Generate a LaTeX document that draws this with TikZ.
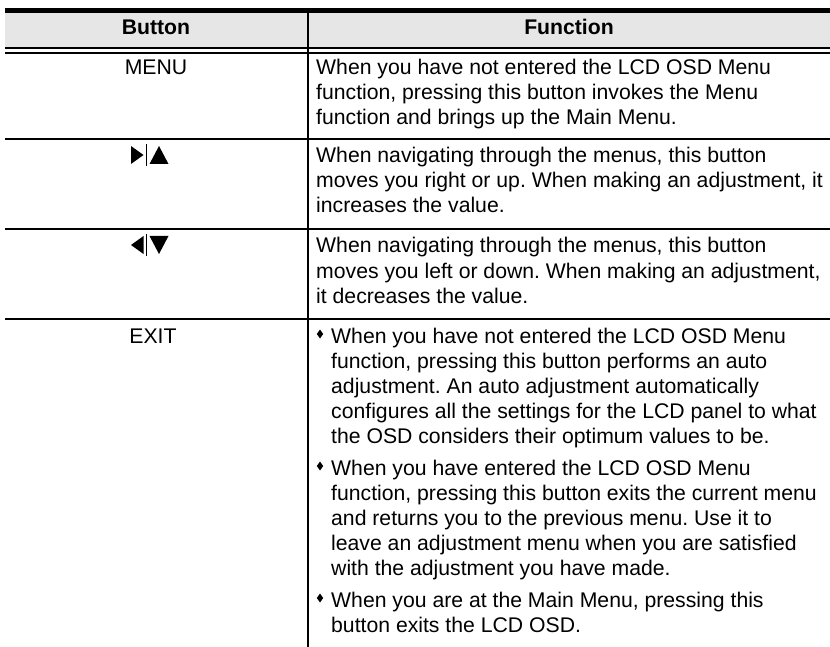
\documentclass[tikz,border=0pt]{standalone}
\usepackage{fontspec}
\setmainfont{Liberation Sans}
\definecolor{headgray}{HTML}{E6E6E6}
\begin{document}
\frenchspacing
\begin{tikzpicture}[x=1pt,y=-1pt,
  txt/.style={anchor=base west,inner sep=0pt,font=\fontsize{21.2}{25}\selectfont},
  ctr/.style={anchor=base,inner sep=0pt,font=\fontsize{21.2}{25}\selectfont},
  hdr/.style={anchor=base,inner sep=0pt,font=\fontsize{21.2}{25}\selectfont\bfseries},
  rule/.style={line width=2pt},
  bul/.style={fill=black}]
\useasboundingbox (0,0) rectangle (830,647);
% header
\fill[headgray] (5,13.3) rectangle (830,46.7);
\draw[line width=5pt] (5,10.8) -- (830,10.8);
\draw[rule] (5,47.7) -- (830,47.7);
\draw[rule] (5,52.7) -- (830,52.7);
\draw[rule] (307.5,13) -- (307.5,647);
\draw[rule] (5,139) -- (830,139);
\draw[rule] (5,229) -- (830,229);
\draw[rule] (5,319) -- (830,319);
\node[hdr] (hb) at (156,35) {Button};
\node[hdr] (hf) at (569,35) {Function};
% MENU row
\node[ctr] (bmenu) at (156,75) {MENU};
\node[txt] (m1) at (316,75) {When you have not entered the LCD OSD Menu};
\node[txt] (m2) at (316,100) {function, pressing this button invokes the Menu};
\node[txt] (m3) at (316,125) {function and brings up the Main Menu.};
% right/up row
\fill (131,146) -- (131,164) -- (143.5,155) -- cycle;
\draw[line width=1pt] (146.5,144.5) -- (146.5,166);
\fill (149.5,164) -- (168.5,164) -- (159,146) -- cycle;
\node[txt] (u1) at (316,163) {When navigating through the menus, this button};
\node[txt] (u2) at (316,188) {moves you right or up. When making an adjustment, it};
\node[txt] (u3) at (316,213) {increases the value.};
% left/down row
\fill (143.5,236) -- (143.5,254) -- (131,245) -- cycle;
\draw[line width=1pt] (146.5,234.5) -- (146.5,256);
\fill (149.5,236) -- (168.5,236) -- (159,254) -- cycle;
\node[txt] (d1) at (316,253) {When navigating through the menus, this button};
\node[txt] (d2) at (316,278) {moves you left or down. When making an adjustment,};
\node[txt] (d3) at (316,303) {it decreases the value.};
% EXIT row
\node[ctr] (bexit) at (153,343) {EXIT};
\fill[bul] (320,329.5) -- (323.2,334) -- (320,338.5) -- (316.8,334) -- cycle;
\node[txt] (e1) at (331,343) {When you have not entered the LCD OSD Menu};
\node[txt] (e2) at (331,368) {function, pressing this button performs an auto};
\node[txt] (e3) at (331,393) {adjustment. An auto adjustment automatically};
\node[txt] (e4) at (331,418) {configures all the settings for the LCD panel to what};
\node[txt] (e5) at (331,443) {the OSD considers their optimum values to be.};
\fill[bul] (320,461.5) -- (323.2,466) -- (320,470.5) -- (316.8,466) -- cycle;
\node[txt] (f1) at (331,475) {When you have entered the LCD OSD Menu};
\node[txt] (f2) at (331,500) {function, pressing this button exits the current menu};
\node[txt] (f3) at (331,525) {and returns you to the previous menu. Use it to};
\node[txt] (f4) at (331,550) {leave an adjustment menu when you are satisfied};
\node[txt] (f5) at (331,575) {with the adjustment you have made.};
\fill[bul] (320,593.5) -- (323.2,598) -- (320,602.5) -- (316.8,598) -- cycle;
\node[txt] (g1) at (331,607) {When you are at the Main Menu, pressing this};
\node[txt] (g2) at (331,632) {button exits the LCD OSD.};
\end{tikzpicture}
\end{document}
